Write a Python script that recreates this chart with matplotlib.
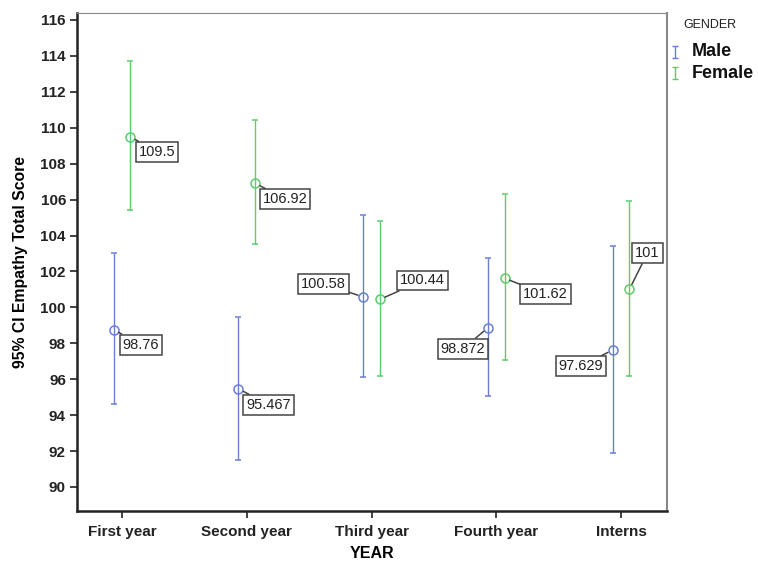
import numpy as np
import matplotlib.pyplot as plt
from matplotlib.lines import Line2D
from matplotlib.path import Path

plt.rcParams['font.family'] = ['Liberation Sans', 'DejaVu Sans']

years = ['First year', 'Second year', 'Third year', 'Fourth year', 'Interns']

male_mean = [98.76, 95.467, 100.58, 98.872, 97.629]
male_lo = [94.62, 91.5, 96.1, 95.08, 91.91]
male_hi = [103.03, 99.48, 105.14, 102.75, 103.42]

female_mean = [109.5, 106.92, 100.44, 101.62, 101.0]
female_lo = [105.42, 103.53, 96.18, 97.05, 96.18]
female_hi = [113.72, 110.43, 104.81, 106.29, 105.92]

male_lbl = ['98.76', '95.467', '100.58', '98.872', '97.629']
female_lbl = ['109.5', '106.92', '100.44', '101.62', '101']

# label box centre relative to the point, in pixels
male_off = [(27, -15), (30, -16), (-40, 13), (-25, -21), (-32, -16)]
female_off = [(27, -15), (30, -16), (43, 19), (41, -16), (18, 36)]

c_male = '#6a7fd2'
c_female = '#5ccd6c'

fig = plt.figure(figsize=(7.58, 5.62), dpi=100)
ax = fig.add_axes([0.1016, 0.0907, 0.7784, 0.8862])

x = np.arange(len(years))
dx = 0.066

for means, lo, hi, col, sign, labels, offs in [
        (male_mean, male_lo, male_hi, c_male, -1, male_lbl, male_off),
        (female_mean, female_lo, female_hi, c_female, 1, female_lbl, female_off)]:
    means = np.array(means)
    err = [means - np.array(lo), np.array(hi) - means]
    xs = x + sign * dx
    ax.errorbar(xs, means, yerr=err, fmt='o', mfc='none', mec=col, ms=6.5,
                ecolor=col, elinewidth=1, capsize=2, capthick=1, mew=1.1)
    for xi, yi, t, o in zip(xs, means, labels, offs):
        ax.annotate(t, (xi, yi), xytext=o, textcoords='offset pixels',
                    ha='center', va='center', fontsize=10.5, color='#222222',
                    bbox=dict(boxstyle='square,pad=0.2', fc='white', ec='#444444', lw=1.1),
                    arrowprops=dict(arrowstyle='-', color='#444444', lw=1.1,
                                    shrinkA=0, shrinkB=4))

ax.set_xlim(-0.36, 4.368)
ax.set_ylim(88.66, 116.39)
ax.set_xticks(x)
ax.set_xticklabels(years, fontweight='bold', fontsize=11)
ax.set_yticks(np.arange(90, 117, 2))
for lab in ax.get_yticklabels():
    lab.set_fontweight('bold')
    lab.set_fontsize(11)
ax.tick_params(direction='out', length=5, width=1.2, colors='#222222', pad=3)
ax.tick_params(axis='x', pad=5)

ax.spines['left'].set_linewidth(1.8)
ax.spines['bottom'].set_linewidth(1.8)
ax.spines['left'].set_color('#222222')
ax.spines['bottom'].set_color('#222222')
ax.spines['top'].set_color('#888888')
ax.spines['right'].set_color('#888888')
ax.spines['right'].set_linewidth(1.5)

ax.set_xlabel('YEAR', fontweight='bold', fontsize=11.5)
ax.xaxis.set_label_coords(0.5, -0.07)
ax.set_ylabel('95% CI Empathy Total Score', fontweight='bold', fontsize=11.3)
ax.yaxis.set_label_coords(-0.083, 0.5)

# legend
ibar = Path([(-0.6, 1), (0.6, 1), (0, 1), (0, -1), (-0.6, -1), (0.6, -1)],
            [Path.MOVETO, Path.LINETO, Path.MOVETO, Path.LINETO, Path.MOVETO, Path.LINETO])
W, H = 758, 562
fig.text(683 / W, 1 - 25 / H, 'GENDER', fontsize=9, va='center', ha='left', color='#222222')
for name, col, yy in [('Male', c_male, 52), ('Female', c_female, 73)]:
    fig.add_artist(Line2D([675 / W], [1 - yy / H], marker=ibar, ms=8, mew=1,
                          color=col, ls='none', transform=fig.transFigure))
    fig.text(692 / W, 1 - yy / H, name, fontsize=13, fontweight='bold',
             va='center', ha='left', color='#111111')

fig.savefig('out.png', dpi=100)
